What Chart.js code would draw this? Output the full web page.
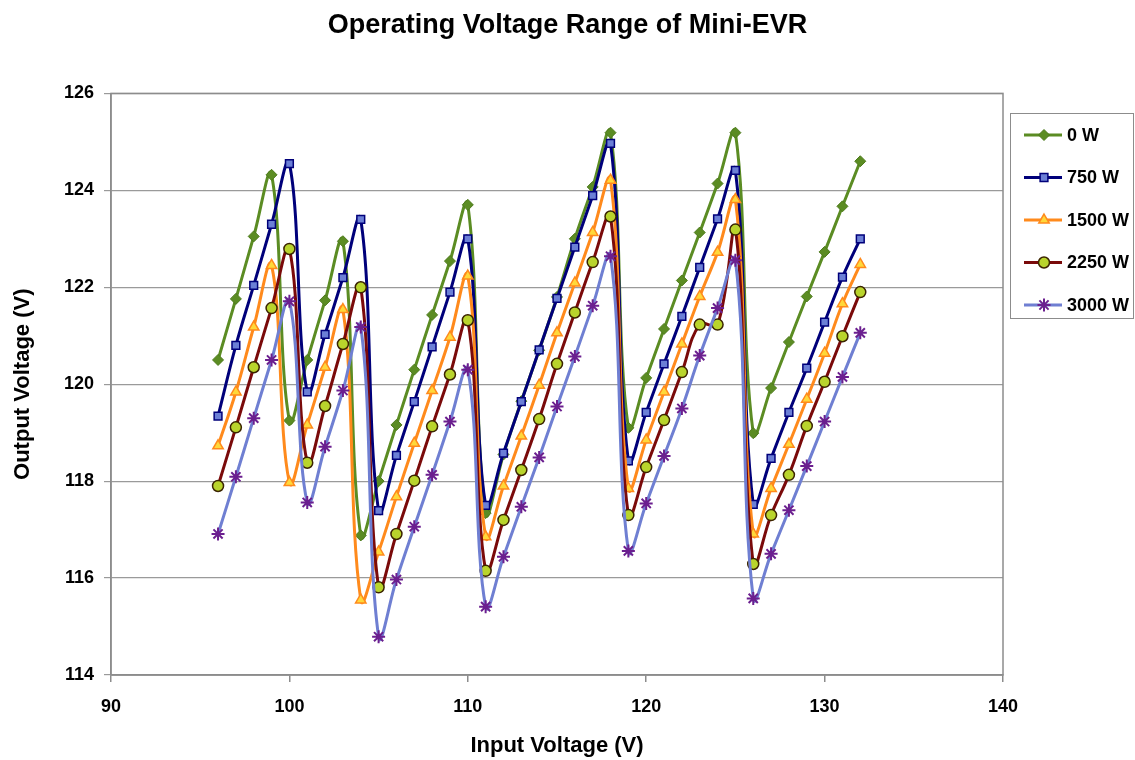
<!DOCTYPE html>
<html>
<head>
<meta charset="utf-8">
<title>Operating Voltage Range of Mini-EVR</title>
<script src="https://cdn.jsdelivr.net/npm/chart.js@4.4.1/dist/chart.umd.min.js"></script>
<style>
  html, body { margin: 0; padding: 0; background: #fff; }
  #wrap { width: 1135px; height: 760px; }
</style>
</head>
<body>
<div id="wrap"><canvas id="evrChart" width="1135" height="760"></canvas></div>
<script>
// input voltage (V)
const inputVoltage = [96, 97, 98, 99, 100, 101, 102, 103, 104, 105, 106, 107, 108, 109, 110, 111, 112, 113, 114,
    115, 116, 117, 118, 119, 120, 121, 122, 123, 124, 125, 126, 127, 128, 129, 130, 131, 132];

// output voltage (V) per load
const load0 = [120.5, 121.76, 123.05, 124.32, 119.25, 120.5, 121.73, 122.95, 116.88, 118.0, 119.16, 120.3, 121.43,
    122.54, 123.7, 117.34, 118.55, 119.65, 120.7, 121.8, 123.0, 124.07, 125.19, 119.1, 120.13, 121.14, 122.14,
    123.13, 124.14, 125.19, 118.99, 119.92, 120.87, 121.81, 122.73, 123.67, 124.6];
const load750 = [119.34, 120.8, 122.04, 123.3, 124.55, 119.84, 121.03, 122.2, 123.4, 117.39, 118.53, 119.64, 120.77,
    121.9, 123.0, 117.5, 118.58, 119.64, 120.71, 121.77, 122.83, 123.89, 124.97, 118.42, 119.42, 120.42, 121.4,
    122.41, 123.41, 124.41, 117.52, 118.47, 119.42, 120.33, 121.28, 122.21, 123.0];
const load1500 = [118.73, 119.84, 121.18, 122.45, 117.97, 119.16, 120.35, 121.54, 115.55, 116.54, 117.68, 118.78,
    119.87, 120.97, 122.23, 116.85, 117.9, 118.93, 119.98, 121.06, 122.09, 123.13, 124.21, 117.85, 118.85, 119.84,
    120.83, 121.81, 122.72, 123.81, 116.91, 117.85, 118.76, 119.69, 120.64, 121.66, 122.47];
const load2250 = [117.9, 119.11, 120.35, 121.57, 122.79, 118.38, 119.55, 120.83, 122.0, 115.81, 116.91, 118.01,
    119.13, 120.2, 121.32, 116.15, 117.2, 118.23, 119.28, 120.42, 121.48, 122.52, 123.46, 117.3, 118.29, 119.26,
    120.25, 121.23, 121.23, 123.19, 116.29, 117.3, 118.13, 119.14, 120.05, 120.99, 121.9];
const load3000 = [116.91, 118.09, 119.3, 120.5, 121.71, 117.56, 118.71, 119.87, 121.18, 114.79, 115.97, 117.06,
    118.13, 119.23, 120.3, 115.41, 116.44, 117.47, 118.49, 119.54, 120.57, 121.62, 122.64, 116.56, 117.54, 118.52,
    119.5, 120.59, 121.57, 122.56, 115.58, 116.5, 117.4, 118.31, 119.23, 120.15, 121.06];

const seriesLabels = ['0 W', '750 W', '1500 W', '2250 W', '3000 W'];

const FONT = '"Liberation Sans", Arial, Helvetica, sans-serif';

function pts(ys) {
    return ys.map((y, i) => ({ x: inputVoltage[i], y: y }));
}

// plot frame in gray
const framePlugin = {
    id: 'frame',
    afterDraw(chart) {
        const a = chart.chartArea, c = chart.ctx;
        c.save();
        c.strokeStyle = '#8c8c8c';
        c.lineWidth = 1.5;
        c.strokeRect(a.left, a.top, a.right - a.left, a.bottom - a.top);
        c.restore();
    }
};

// excel-like legend box: line with marker in the middle
const legendBoxPlugin = {
    id: 'legendBox',
    afterDraw(chart) {
        const c = chart.ctx, a = chart.chartArea;
        const x0 = a.right + 7, y0 = 113, w = 123, h = 205;
        c.save();
        c.fillStyle = '#fff';
        c.fillRect(x0, y0, w, h);
        c.strokeStyle = '#8c8c8c';
        c.lineWidth = 1;
        c.strokeRect(x0 + 0.5, y0 + 0.5, w, h);
        chart.data.datasets.forEach((ds, i) => {
            const y = y0 + 22 + i * 42.5;
            c.strokeStyle = ds.borderColor;
            c.lineWidth = 3;
            c.beginPath();
            c.moveTo(x0 + 14, y);
            c.lineTo(x0 + 52, y);
            c.stroke();
            c.fillStyle = ds.pointBackgroundColor;
            c.strokeStyle = ds.pointBorderColor;
            c.lineWidth = ds.pointBorderWidth;
            Chart.helpers.drawPoint(c, { pointStyle: ds.pointStyle, radius: ds.pointRadius, rotation: 0, borderWidth: ds.pointBorderWidth }, x0 + 34, y);
            c.fillStyle = '#000';
            c.font = 'bold 18px ' + FONT;
            c.textBaseline = 'middle';
            c.textAlign = 'left';
            c.fillText(ds.label, x0 + 57, y + 1);
        });
        c.restore();
    }
};

const ctx = document.getElementById('evrChart').getContext('2d');
const evrChart = new Chart(ctx, {
    type: 'line',
    data: {
        datasets: [
            { label: seriesLabels[0], data: pts(load0), borderColor: '#5b8c23', pointStyle: 'rectRot', pointRadius: 5.5,
              pointBackgroundColor: '#5b8c23', pointBorderColor: '#4d7a1c', pointBorderWidth: 1, order: 4 },
            { label: seriesLabels[1], data: pts(load750), borderColor: '#00007a', pointStyle: 'rect', pointRadius: 5.5,
              pointBackgroundColor: '#6b7fd6', pointBorderColor: '#00007a', pointBorderWidth: 1.5, order: 3 },
            { label: seriesLabels[2], data: pts(load1500), borderColor: '#ff8a1c', pointStyle: 'triangle', pointRadius: 6,
              pointBackgroundColor: '#ffd83a', pointBorderColor: '#ff8a1c', pointBorderWidth: 1.5, order: 2 },
            { label: seriesLabels[3], data: pts(load2250), borderColor: '#7a0a0a', pointStyle: 'circle', pointRadius: 5.5,
              pointBackgroundColor: '#b9d42c', pointBorderColor: '#3b2400', pointBorderWidth: 1.5, order: 1 },
            { label: seriesLabels[4], data: pts(load3000), borderColor: '#6f7fd2', pointStyle: 'star', pointRadius: 6.5,
              pointBackgroundColor: '#6b1f8f', pointBorderColor: '#6b1f8f', pointBorderWidth: 2, order: 0 }
        ].map(ds => Object.assign({ borderWidth: 3, tension: 0.4, fill: false, pointHoverRadius: ds.pointRadius }, ds))
    },
    options: {
        responsive: false,
        animation: false,
        layout: { padding: 0 },
        plugins: {
            legend: { display: false },
            tooltip: { enabled: false },
            title: {
                display: true,
                text: 'Operating Voltage Range of Mini-EVR',
                color: '#000',
                font: { family: FONT, size: 27, weight: 'bold' },
                padding: { top: 9, bottom: 52 }
            }
        },
        scales: {
            x: {
                type: 'linear',
                min: 90,
                max: 140,
                ticks: { stepSize: 10, color: '#000', padding: 14, font: { family: FONT, size: 18, weight: 'bold' } },
                grid: { drawOnChartArea: false, color: '#8c8c8c', tickLength: 7, lineWidth: 1.5 },
                border: { color: '#8c8c8c', width: 1.5 },
                title: { display: true, text: 'Input Voltage (V)', color: '#000', padding: { top: 0, bottom: 1 },
                         font: { family: FONT, size: 22, weight: 'bold' } },
                afterFit(scale) { scale.height = 85; }
            },
            y: {
                min: 114,
                max: 126,
                ticks: { stepSize: 2, color: '#000', padding: 10, font: { family: FONT, size: 18, weight: 'bold' } },
                grid: { color: '#9a9a9a', tickLength: 7, lineWidth: 1.2 },
                border: { color: '#8c8c8c', width: 1.5 },
                title: { display: true, text: 'Output Voltage (V)', color: '#000', padding: { top: 10, bottom: 0 },
                         font: { family: FONT, size: 22, weight: 'bold' } },
                afterFit(scale) { scale.width = 111; }
            },
            // empty right-hand axis that only reserves room for the legend box
            legendSpace: {
                type: 'linear',
                position: 'right',
                display: true,
                ticks: { display: false },
                grid: { display: false },
                border: { display: false },
                afterFit(scale) { scale.width = 132; }
            }
        }
    },
    plugins: [framePlugin, legendBoxPlugin]
});
</script>
</body>
</html>
